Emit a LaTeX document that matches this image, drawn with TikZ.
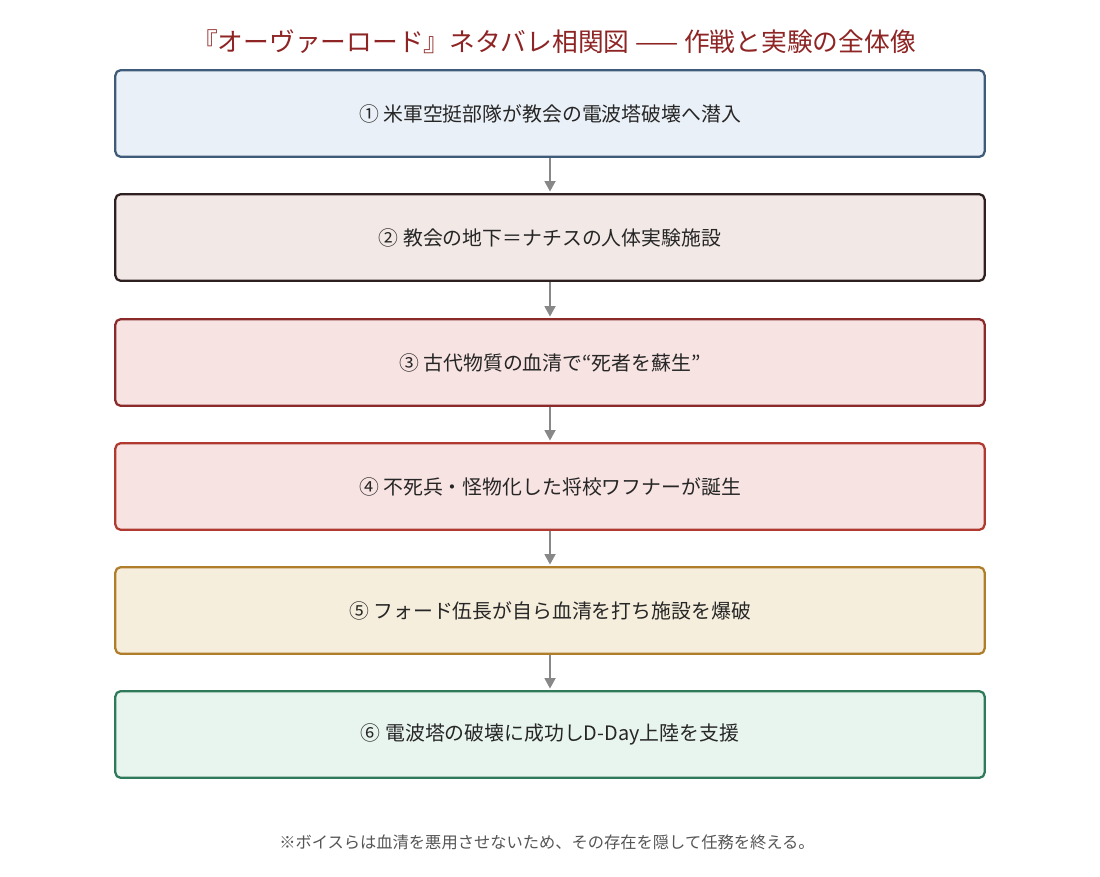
\documentclass[tikz,border=0pt]{standalone}
\usepackage{fontspec}
\setmainfont{Noto Sans CJK JP}
\usetikzlibrary{arrows.meta}
\definecolor{titlered}{HTML}{8E2424}
\definecolor{arrowgray}{HTML}{888888}
\definecolor{notegray}{HTML}{555555}
\begin{document}
\begin{tikzpicture}
    [
      x=0.75pt,
      y=-0.75pt,
      stage/.style={rectangle,rounded corners=4pt,line width=1.7pt,minimum width=652pt,minimum height=65pt,font=\fontsize{14.9}{17}\selectfont,text=black!85},
      flow/.style={-{Triangle[length=8pt,width=8pt]},line width=2.2pt,draw=arrowgray,shorten >=1pt},
    ]
    \useasboundingbox (0,0) rectangle (1100,877);
    \node at (554, 42) [font=\fontsize{19.3}{22}\selectfont,text=titlered] (title) {『オーヴァーロード』ネタバレ相関図 —— 作戦と実験の全体像};

    \node at (550, 113.5) [stage,draw={rgb,255:red,62;green,92;blue,122},fill={rgb,255:red,234;green,240;blue,247}] (s1) {① 米軍空挺部隊が教会の電波塔破壊へ潜入};
    \node at (550, 237.5) [stage,draw={rgb,255:red,46;green,32;blue,32},fill={rgb,255:red,242;green,232;blue,230}] (s2) {② 教会の地下＝ナチスの人体実験施設};
    \node at (550, 362.5) [stage,draw={rgb,255:red,139;green,42;blue,42},fill={rgb,255:red,247;green,227;blue,226}] (s3) {③ 古代物質の血清で“死者を蘇生”};
    \node at (550, 486.5) [stage,draw={rgb,255:red,176;green,58;blue,48},fill={rgb,255:red,247;green,227;blue,226}] (s4) {④ 不死兵・怪物化した将校ワフナーが誕生};
    \node at (550, 610.5) [stage,draw={rgb,255:red,176;green,125;blue,42},fill={rgb,255:red,246;green,238;blue,221}] (s5) {⑤ フォード伍長が自ら血清を打ち施設を爆破};
    \node at (550, 734.5) [stage,draw={rgb,255:red,46;green,122;blue,90},fill={rgb,255:red,232;green,244;blue,238}] (s6) {⑥ 電波塔の破壊に成功しD-Day上陸を支援};

    \draw[flow] (s1) -- (s2);
    \draw[flow] (s2) -- (s3);
    \draw[flow] (s3) -- (s4);
    \draw[flow] (s4) -- (s5);
    \draw[flow] (s5) -- (s6);

    \node at (547, 842) [font=\fontsize{12.2}{14}\selectfont,text=notegray] (note) {※ボイスらは血清を悪用させないため、その存在を隠して任務を終える。};
  \end{tikzpicture}
\end{document}
